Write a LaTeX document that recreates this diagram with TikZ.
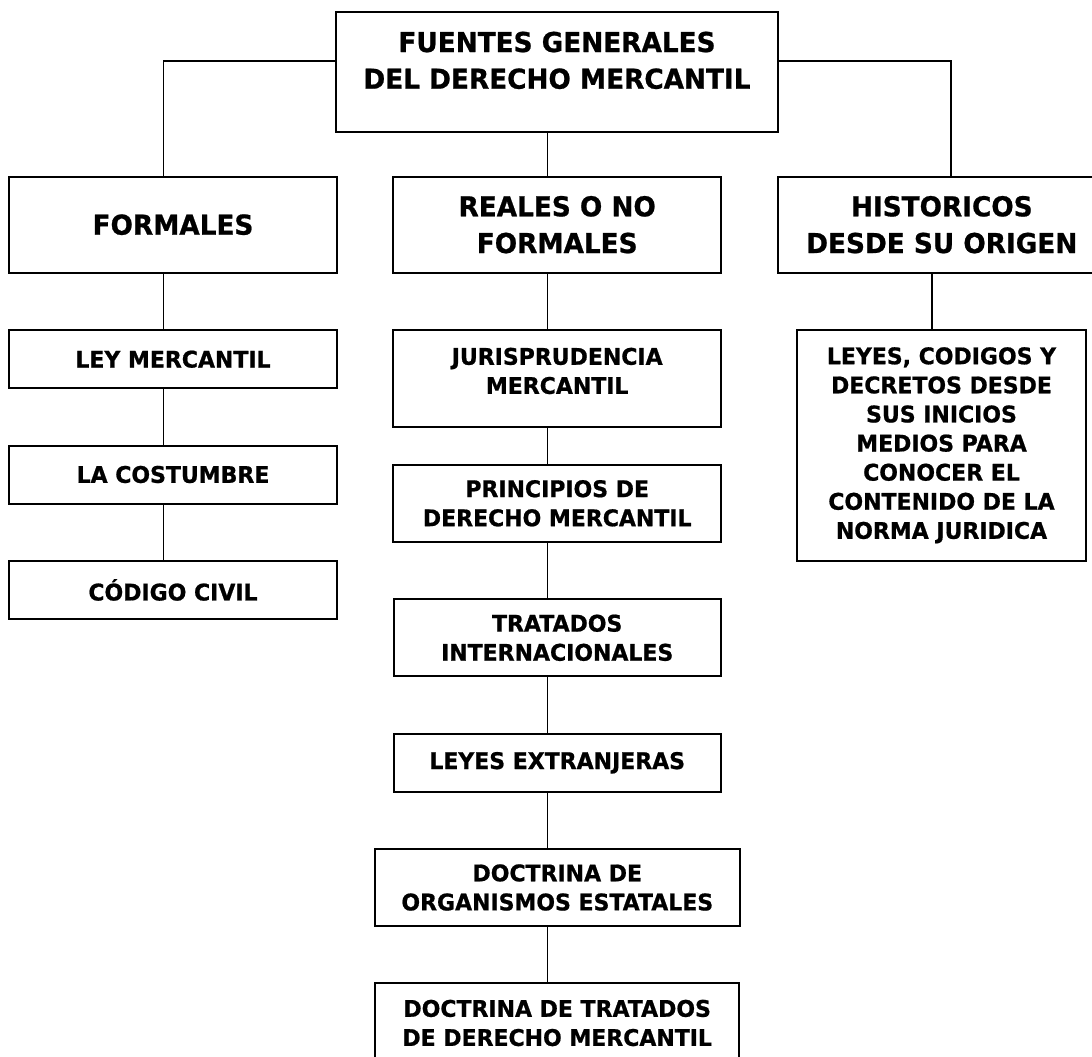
\documentclass[tikz,border=0pt]{standalone}
\usepackage{fontspec}
\setmainfont{DejaVu Sans}[FakeStretch=0.96,BoldFeatures={FakeBold=0.8}]
\usepackage{tikz}

\begin{document}
\begin{tikzpicture}[x=1pt,y=-1pt,
	box/.style={draw,line width=2pt,inner sep=0pt,outer sep=0pt,align=center,font=\fontsize{22.9}{29.1}\selectfont\bfseries},
	bigbox/.style={box,font=\fontsize{27.4}{36.7}\selectfont\bfseries},
	link/.style={line width=1.3pt}]
	\clip (0,0) rectangle (1092,1057);
	\fill[white] (0,0) rectangle (1092,1057);

	\node[bigbox,minimum width=442,minimum height=120,text depth=23] (top) at (557,71.7) {FUENTES GENERALES\\DEL DERECHO MERCANTIL};
	\node[bigbox,minimum width=327.4,minimum height=96] (formales) at (173,224.7) {FORMALES};
	\node[bigbox,minimum width=327.7,minimum height=96] (reales) at (557.2,224.7) {REALES O NO\\FORMALES};
	\node[bigbox,minimum width=328.3,minimum height=96] (historicos) at (941.8,224.7) {HISTORICOS\\DESDE SU ORIGEN};

	\node[box,minimum width=327.4,minimum height=58] (ley) at (173,359.2) {LEY MERCANTIL};
	\node[box,minimum width=327.4,minimum height=58] (costumbre) at (173,474.5) {LA COSTUMBRE};
	\node[box,minimum width=327.4,minimum height=58] (codigo) at (173,590) {CÓDIGO CIVIL};

	\node[box,minimum width=327.7,minimum height=96.7,text depth=15] (jurisprudencia) at (557.2,378.3) {JURISPRUDENCIA\\MERCANTIL};
	\node[box,minimum width=327.7,minimum height=76.7] (principios) at (557.2,503.3) {PRINCIPIOS DE\\DERECHO MERCANTIL};
	\node[box,minimum width=327,minimum height=77] (tratados) at (557.2,637.8) {TRATADOS\\INTERNACIONALES};
	\node[box,minimum width=327,minimum height=57.7] (extranjeras) at (557.2,762.8) {LEYES EXTRANJERAS};
	\node[box,minimum width=365.3,minimum height=77] (organismos) at (557.3,887.5) {DOCTRINA DE\\ORGANISMOS ESTATALES};
	\node[box,minimum width=364.5,minimum height=80] (doctrina) at (557.2,1023) {DOCTRINA DE TRATADOS\\DE DERECHO MERCANTIL};

	\node[box,minimum width=289,minimum height=230.7] (leyes) at (941.5,445.3) {LEYES, CODIGOS Y\\DECRETOS DESDE\\SUS INICIOS\\MEDIOS PARA\\CONOCER EL\\CONTENIDO DE LA\\NORMA JURIDICA};

	\coordinate (lspine) at (163.3,0);
	\coordinate (mspine) at (547.3,0);
	\coordinate (rspine) at (951,0);
	\coordinate (hspine) at (932,0);
	\coordinate (branch) at (0,61);

	\draw[link] (top.west |- branch) -| (formales.north -| lspine);
	\draw[link] (top.east |- branch) -| (historicos.north -| rspine);
	\draw[link] (top.south -| mspine) -- (reales.north -| mspine);
	\foreach \a/\b in {formales/ley,ley/costumbre,costumbre/codigo}
		\draw[link] (\a.south -| lspine) -- (\b.north -| lspine);
	\foreach \a/\b in {reales/jurisprudencia,jurisprudencia/principios,principios/tratados,tratados/extranjeras,extranjeras/organismos,organismos/doctrina}
		\draw[link] (\a.south -| mspine) -- (\b.north -| mspine);
	\draw[link] (historicos.south -| hspine) -- (leyes.north -| hspine);
\end{tikzpicture}
\end{document}
